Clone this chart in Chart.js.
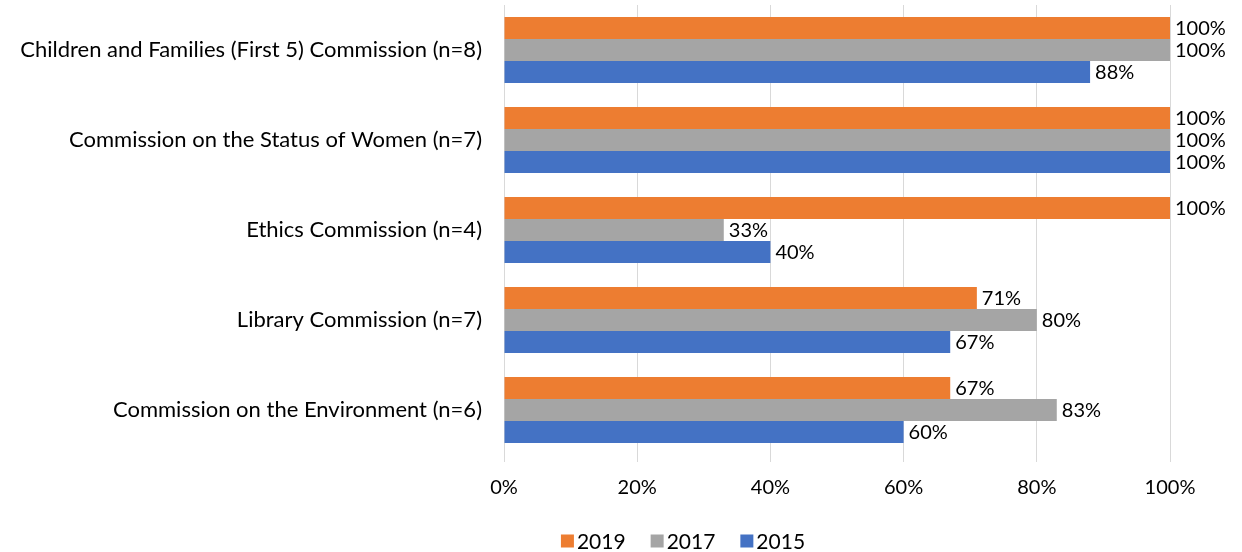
<!DOCTYPE html>
<html>
<head>
<meta charset="utf-8">
<script src="https://cdn.jsdelivr.net/npm/chart.js@4"></script>
<style>
  html, body { margin: 0; padding: 0; background: #fff; }
  #wrap { width: 1242px; height: 552px; position: relative; }
</style>
</head>
<body>
<div id="wrap"><canvas id="commission-chart-id"></canvas></div>
<script>
// chart data
const categories = [
  'Children and Families (First 5) Commission (n=8)',
  'Commission on the Status of Women (n=7)',
  'Ethics Commission (n=4)',
  'Library Commission (n=7)',
  'Commission on the Environment (n=6)'
];
const seriesNames = ['2019', '2017', '2015'];
const values2019 = [100, 100, 100, 71, 67];
const values2017 = [100, 100, 33, 80, 83];
const values2015 = [88, 100, 40, 67, 60];
const xTicks = [0, 20, 40, 60, 80, 100];

const FONT = 'Lato, "Open Sans", sans-serif';

// draws "xx%" right of each bar
const barLabels = {
  id: 'barLabels',
  afterDatasetsDraw(chart) {
    const ctx = chart.ctx;
    ctx.save();
    ctx.font = '20px ' + FONT;
    ctx.fillStyle = '#000';
    ctx.textBaseline = 'middle';
    ctx.textAlign = 'left';
    chart.data.datasets.forEach((ds, i) => {
      chart.getDatasetMeta(i).data.forEach((bar, j) => {
        ctx.fillText(ds.data[j] + '%', bar.x + 5, bar.y + 1);
      });
    });
    ctx.restore();
  }
};

// legend at the bottom, Excel style
const bottomLegend = {
  id: 'bottomLegend',
  afterDraw(chart) {
    const ctx = chart.ctx;
    ctx.save();
    ctx.font = '21px ' + FONT;
    ctx.textBaseline = 'middle';
    const box = 13, gap = 3, space = 25;
    const items = chart.data.datasets.map(ds => ({
      text: ds.label, color: ds.backgroundColor, w: box + gap + ctx.measureText(ds.label).width
    }));
    const total = items.reduce((s, it) => s + it.w, 0) + space * (items.length - 1);
    let x = 683 - total / 2;
    const y = 541;
    items.forEach(it => {
      ctx.fillStyle = it.color;
      ctx.fillRect(x, y - box / 2, box, box);
      ctx.fillStyle = '#000';
      ctx.fillText(it.text, x + box + gap, y + 1);
      x += it.w + space;
    });
    ctx.restore();
  }
};

new Chart(document.getElementById('commission-chart-id'), {
  type: 'bar',
  data: {
    labels: categories,
    datasets: [
      { label: seriesNames[0], data: values2019, backgroundColor: '#ED7D31' },
      { label: seriesNames[1], data: values2017, backgroundColor: '#A5A5A5' },
      { label: seriesNames[2], data: values2015, backgroundColor: '#4472C4' }
    ]
  },
  options: {
    indexAxis: 'y',
    responsive: true,
    maintainAspectRatio: false,
    animation: false,
    layout: { padding: { top: 5, right: 72, bottom: 47, left: 0 } },
    datasets: { bar: { categoryPercentage: 0.733, barPercentage: 1.0 } },
    plugins: {
      legend: { display: false },
      tooltip: { enabled: false }
    },
    scales: {
      x: {
        min: 0,
        max: 100,
        afterBuildTicks: scale => { scale.ticks = xTicks.map(v => ({ value: v })); },
        ticks: {
          color: '#000',
          font: { family: FONT, size: 20 },
          padding: 14,
          callback: v => v + '%'
        },
        grid: { color: '#D9D9D9', lineWidth: 1, tickLength: 7 },
        border: { display: false },
        afterFit: scale => { scale.height = 50; }
      },
      y: {
        ticks: {
          color: '#000',
          font: { family: FONT, size: 22 },
          padding: 14
        },
        grid: { display: false },
        border: { display: false },
        afterFit: scale => {
          scale.width = 504;
          scale.paddingTop = 0;
          scale.paddingBottom = 0;
        }
      }
    }
  },
  plugins: [barLabels, bottomLegend]
});
</script>
</body>
</html>
